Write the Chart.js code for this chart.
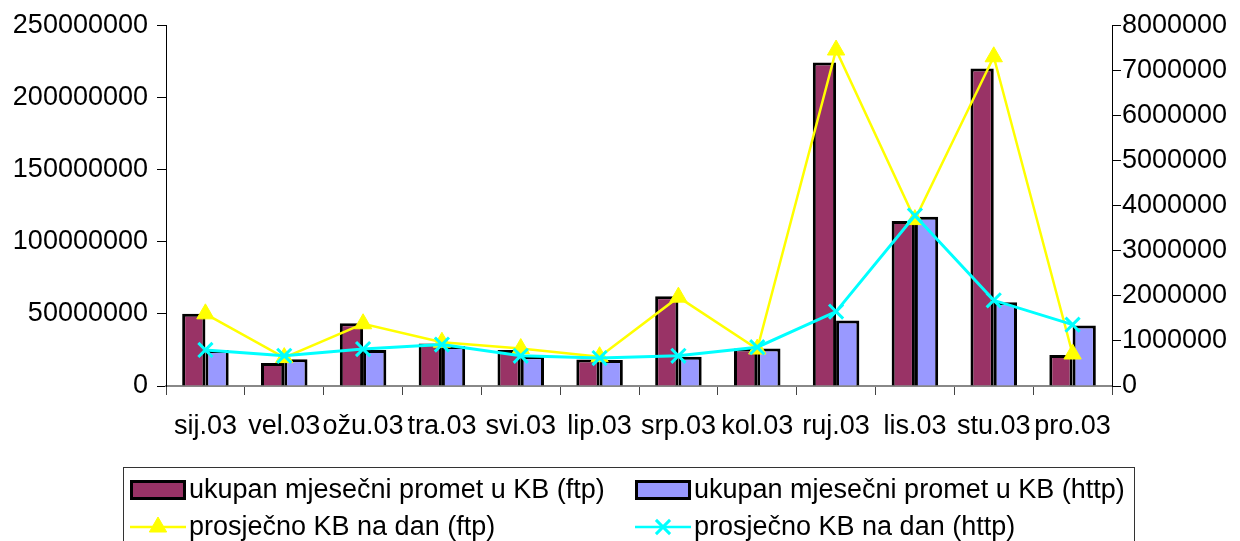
<!DOCTYPE html>
<html>
<head>
<meta charset="utf-8">
<script src="https://cdn.jsdelivr.net/npm/chart.js@4.4.0/dist/chart.umd.min.js"></script>
<style>
    body { margin: 0; background: #fff; }
    #wrap { position: relative; width: 1240px; height: 541px; overflow: hidden; }
    #legend {
        position: absolute; left: 123px; top: 467px; width: 1012px; height: 90px;
        border: 1px solid #333; box-sizing: border-box;
        display: grid; grid-template-columns: 505px 500px; grid-auto-rows: 37px;
        padding-top: 3px;
        font-family: "Liberation Sans", Arial, sans-serif; font-size: 27px; color: #000;
    }
    .item { display: flex; align-items: center; white-space: nowrap; padding-left: 6px; }
    .item canvas { margin-right: 3px; }
</style>
</head>
<body>
<div id="wrap">
    <canvas id="chart" width="1240" height="541"></canvas>
    <div id="legend"></div>
</div>
<script>
const months = ["sij.03", "vel.03", "ožu.03", "tra.03", "svi.03", "lip.03", "srp.03", "kol.03", "ruj.03", "lis.03", "stu.03", "pro.03"];

// monthly totals in KB (left axis)
const totalFtp = [50000000, 16000000, 43500000, 29500000, 25000000, 18400000, 62200000, 26000000, 224200000, 114300000, 220000000, 21400000];
const totalHttp = [24900000, 18600000, 25000000, 27700000, 20700000, 18000000, 20300000, 26000000, 45400000, 117300000, 58000000, 41900000];

// average KB per day (right axis)
const avgFtp = [1600000, 630000, 1380000, 970000, 830000, 650000, 1970000, 820000, 7450000, 3690000, 7300000, 710000];
const avgHttp = [800000, 670000, 820000, 920000, 670000, 620000, 670000, 860000, 1650000, 3780000, 1900000, 1360000];

const leftTicks = { min: 0, max: 250000000, step: 50000000 };
const rightTicks = { min: 0, max: 8000000, step: 1000000 };

const fontFamily = '"Liberation Sans", Arial, sans-serif';
const tickFont = { family: fontFamily, size: 27 };

const ctx = document.getElementById("chart").getContext("2d");
const chart = new Chart(ctx, {
    type: "bar",
    data: {
        labels: months,
        datasets: [
            {
                type: "line", label: "prosječno KB na dan (ftp)", data: avgFtp, yAxisID: "y1",
                borderColor: "#FFFF00", backgroundColor: "#FFFF00", borderWidth: 2.5,
                pointStyle: "triangle", pointRadius: 10, pointBorderWidth: 1,
                order: 2, tension: 0
            },
            {
                type: "line", label: "prosječno KB na dan (http)", data: avgHttp, yAxisID: "y1",
                borderColor: "#00FFFF", backgroundColor: "#00FFFF", borderWidth: 3,
                pointStyle: "crossRot", pointRadius: 10, pointBorderWidth: 3,
                order: 1, tension: 0
            },
            {
                label: "ukupan mjesečni promet u KB (ftp)", data: totalFtp, yAxisID: "y",
                backgroundColor: "#993366", borderColor: "#000", borderWidth: 3,
                categoryPercentage: 0.59, barPercentage: 1, order: 3
            },
            {
                label: "ukupan mjesečni promet u KB (http)", data: totalHttp, yAxisID: "y",
                backgroundColor: "#9999FF", borderColor: "#000", borderWidth: 3,
                categoryPercentage: 0.59, barPercentage: 1, order: 4
            }
        ]
    },
    options: {
        responsive: false,
        animation: false,
        layout: { padding: { top: 17 } },
        plugins: { legend: { display: false }, tooltip: { enabled: false } },
        scales: {
            x: {
                offset: true,
                grid: { display: true, drawOnChartArea: false, offset: true, tickLength: 9, color: "#444" },
                border: { color: "#888", width: 2 },
                ticks: { font: tickFont, color: "#000", padding: 15, maxRotation: 0, autoSkip: false },
                afterFit: s => { s.height = 155; }
            },
            y: {
                position: "left",
                min: leftTicks.min, max: leftTicks.max,
                grid: { drawOnChartArea: false, tickLength: 9, color: "#000" },
                border: { color: "#000", width: 1 },
                ticks: { font: tickFont, color: "#000", stepSize: leftTicks.step, padding: 9, callback: v => String(v) },
                afterFit: s => { s.width = 166; }
            },
            y1: {
                position: "right",
                min: rightTicks.min, max: rightTicks.max,
                grid: { drawOnChartArea: false, tickLength: 9, color: "#000" },
                border: { color: "#000", width: 1 },
                ticks: { font: tickFont, color: "#000", stepSize: rightTicks.step, padding: 1, callback: v => String(v) },
                afterFit: s => { s.width = 128; }
            }
        }
    }
});

// two-column legend, same order as the reference
function buildLegend() {
    const legend = document.getElementById("legend");
    const ds = chart.data.datasets;
    const entries = [ds[2], ds[3], ds[0], ds[1]];
    entries.forEach(d => {
        const item = document.createElement("div");
        item.className = "item";
        const c = document.createElement("canvas");
        c.width = 56; c.height = 26;
        const g = c.getContext("2d");
        if (d.type === "line") {
            g.strokeStyle = d.borderColor;
            g.lineWidth = 2.5;
            g.beginPath(); g.moveTo(0, 13); g.lineTo(56, 13); g.stroke();
            g.fillStyle = d.backgroundColor;
            g.strokeStyle = d.borderColor;
            g.lineWidth = d.pointBorderWidth;
            Chart.helpers.drawPoint(g, { pointStyle: d.pointStyle, radius: 10, borderWidth: d.pointBorderWidth }, 28, 13);
        } else {
            g.fillStyle = d.backgroundColor;
            g.fillRect(1, 4, 54, 18);
            g.strokeStyle = "#000";
            g.lineWidth = 3;
            g.strokeRect(1.5, 4.5, 53, 17);
        }
        item.appendChild(c);
        const t = document.createElement("span");
        t.textContent = d.label;
        item.appendChild(t);
        legend.appendChild(item);
    });
}
buildLegend();
</script>
</body>
</html>
